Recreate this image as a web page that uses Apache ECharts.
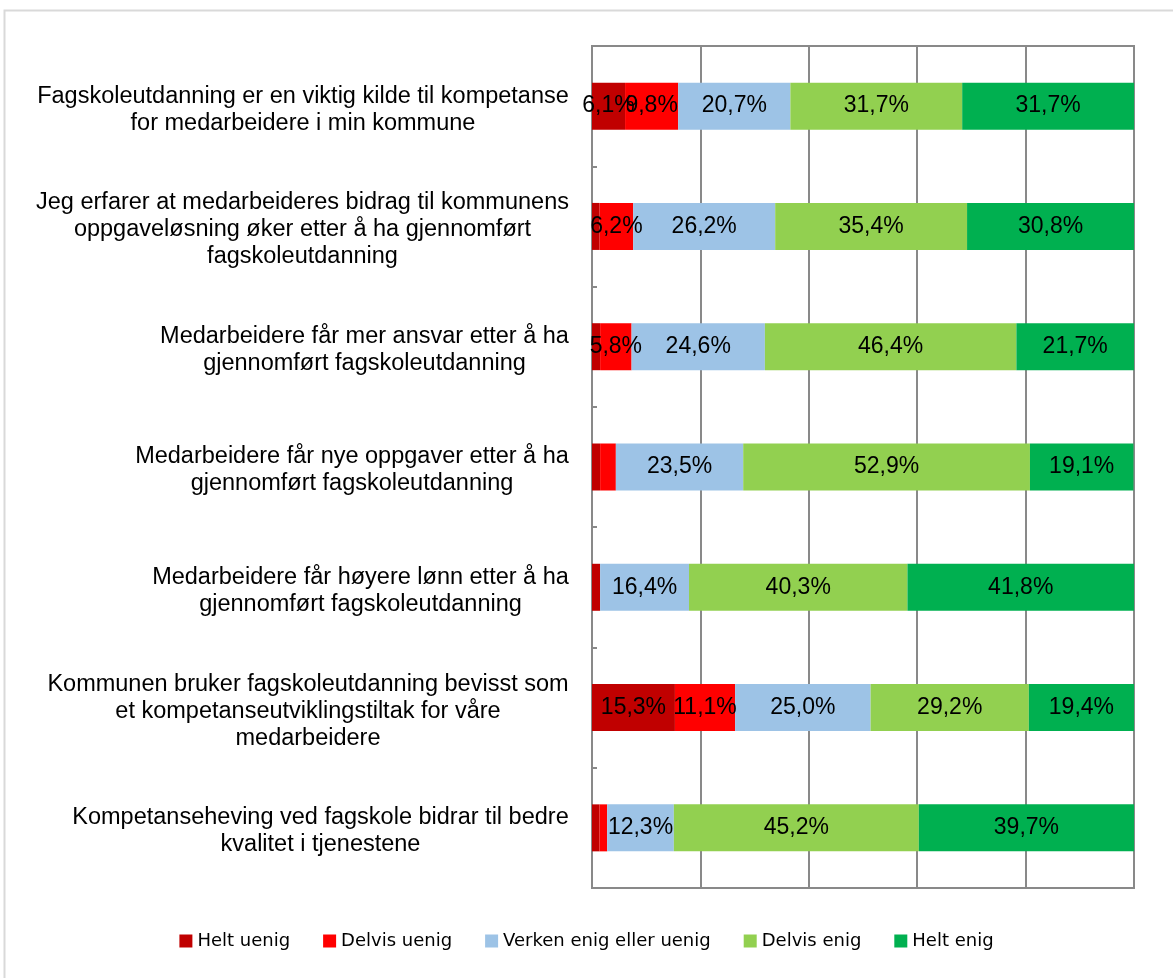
<!DOCTYPE html>
<html><head><meta charset="utf-8">
<script src="https://cdn.jsdelivr.net/npm/echarts@6/dist/echarts.min.js"></script>
<style>html,body{margin:0;padding:0;background:#fff}#c{width:1173px;height:978px}</style>
</head><body><div id="c"></div>
<script>
var categories = [
  "Fagskoleutdanning er en viktig kilde til kompetanse\nfor medarbeidere i min kommune",
  "Jeg erfarer at medarbeideres bidrag til kommunens\noppgaveløsning øker etter å ha gjennomført\nfagskoleutdanning",
  "Medarbeidere får mer ansvar etter å ha\ngjennomført fagskoleutdanning",
  "Medarbeidere får nye oppgaver etter å ha\ngjennomført fagskoleutdanning",
  "Medarbeidere får høyere lønn etter å ha\ngjennomført fagskoleutdanning",
  "Kommunen bruker fagskoleutdanning bevisst som\net kompetanseutviklingstiltak for våre\nmedarbeidere",
  "Kompetanseheving ved fagskole bidrar til bedre\nkvalitet i tjenestene"
];
var seriesNames = ["Helt uenig", "Delvis uenig", "Verken enig eller uenig", "Delvis enig", "Helt enig"];
var heltUenig   = [6.1, 1.4, 1.5, 1.5, 1.5, 15.3, 1.4];
var delvisUenig = [9.8, 6.2, 5.8, 2.9, 0,   11.1, 1.4];
var verken      = [20.7, 26.2, 24.6, 23.5, 16.4, 25.0, 12.3];
var delvisEnig  = [31.7, 35.4, 46.4, 52.9, 40.3, 29.2, 45.2];
var heltEnig    = [31.7, 30.8, 21.7, 19.1, 41.8, 19.4, 39.7];
var colors = ["#C00000", "#FF0000", "#9DC3E6", "#92D050", "#00B050"];
var xTicks = [0, 20, 40, 60, 80, 100];

var LABEL_FONT = '"Liberation Sans", Arial, sans-serif';
var CAT_SIZE = 23.5;
var cv = document.createElement('canvas').getContext('2d');
cv.font = CAT_SIZE + 'px "Liberation Sans"';
var rich = {};
categories.forEach(function (c, i) {
  var w = 0;
  c.split('\n').forEach(function (l) { w = Math.max(w, cv.measureText(l).width); });
  rich['r' + i] = { width: Math.ceil(w) + 2, align: 'center', fontSize: CAT_SIZE, lineHeight: 27, color: '#000', fontFamily: LABEL_FONT };
});

var all = [heltUenig, delvisUenig, verken, delvisEnig, heltEnig];
var series = all.map(function (arr, k) {
  return {
    name: seriesNames[k], type: 'bar', stack: 'a', barWidth: 47,
    itemStyle: { color: colors[k] },
    label: {
      show: true, position: 'inside', color: '#000', fontSize: 23, fontFamily: LABEL_FONT,
      formatter: function (p) { return p.value >= 5 ? p.value.toFixed(1).replace('.', ',') + '%' : ''; }
    },
    data: arr
  };
});

var chart = echarts.init(document.getElementById('c'));
chart.setOption({
  animation: false,
  color: colors,
  graphic: [{ type: 'rect', shape: { x: 4.5, y: 10.5, width: 1200, height: 1000 }, style: { fill: 'none', stroke: '#d9d9d9', lineWidth: 2 }, silent: true }],
  grid: { left: 592, right: 39, top: 46, bottom: 90, show: true, borderColor: '#898989', borderWidth: 2, backgroundColor: 'transparent' },
  legend: {
    top: 927, left: 'center', itemWidth: 13, itemHeight: 13, itemGap: 33, icon: 'rect',
    textStyle: { fontFamily: '"DejaVu Sans", Verdana, sans-serif', fontSize: 18, color: '#000' },
    data: seriesNames
  },
  xAxis: {
    type: 'value', min: xTicks[0], max: xTicks[xTicks.length - 1], interval: 20,
    axisLabel: { show: false }, axisTick: { show: false }, axisLine: { show: false },
    splitLine: { show: true, lineStyle: { color: '#898989', width: 2 } }
  },
  yAxis: {
    type: 'category', inverse: true, data: categories,
    axisLine: { show: true, lineStyle: { color: '#898989', width: 2 } },
    axisTick: { show: true, inside: true, length: 5, lineStyle: { color: '#898989', width: 2 } },
    axisLabel: {
      margin: 22, interval: 0, padding: [7, 0, 0, 0],
      formatter: function (v, i) {
        return v.split('\n').map(function (l) { return '{r' + i + '|' + l + '}'; }).join('\n');
      },
      rich: rich
    }
  },
  series: series
});
</script></body></html>
